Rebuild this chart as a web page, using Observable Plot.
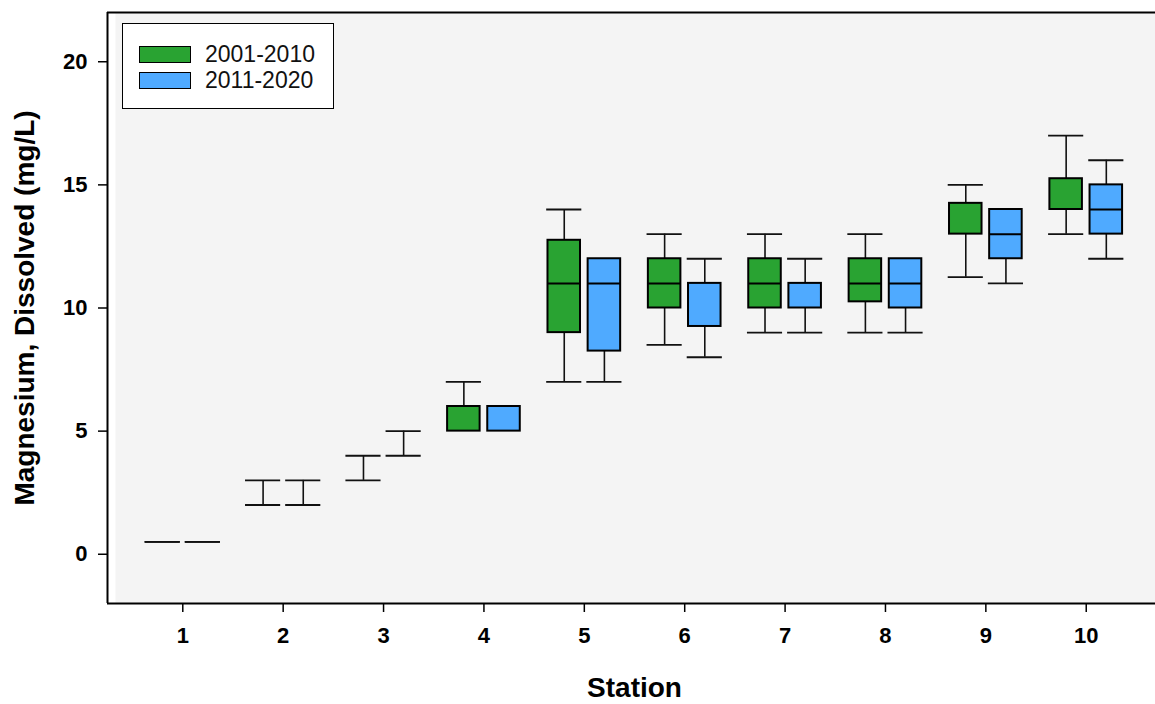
<!DOCTYPE html>
<html>
<head>
<meta charset="utf-8">
<script src="https://cdn.jsdelivr.net/npm/d3@7"></script>
<script src="https://cdn.jsdelivr.net/npm/@observablehq/plot@0.6"></script>
<style>
  html, body { margin: 0; padding: 0; background: white; }
  #wrap { position: relative; width: 1155px; height: 704px; overflow: hidden; }
  #legend { position: absolute; left: 122px; top: 23px; width: 210px; height: 84px;
    border: 1.5px solid #000; background: #fff; font-family: "Liberation Sans", Arial, sans-serif; font-size: 23px; }
  .row { position: absolute; left: 16px; height: 18px; display: flex; align-items: center; }
  .sw { width: 50px; height: 15px; border: 1.5px solid #000; margin-right: 14px; }
  .lab { line-height: 18px; color: #111; }
</style>
</head>
<body>
<div id="wrap"></div>
<script>
// ---- data ----
const stations = [1, 2, 3, 4, 5, 6, 7, 8, 9, 10];
const groups = ["2001-2010", "2011-2020"];
const colors = ["#29a332", "#4faaff"];
const yTicks = [0, 5, 10, 15, 20];

// 2001-2010
const lowA  = [0.5, 2, 3, 5, 7,     8.5,  9,  9,     11.25, 13];
const q1A   = [0.5, 2, 3, 5, 9,     10,   10, 10.25, 13,    14];
const medA  = [0.5, 2, 3, 5, 11,    11,   11, 11,    13,    14];
const q3A   = [0.5, 2, 3, 6, 12.75, 12,   12, 12,    14.25, 15.25];
const highA = [0.5, 3, 4, 7, 14,    13,   13, 13,    15,    17];
// 2011-2020
const lowB  = [0.5, 2, 4, 5, 7,     8,    9,  9,     11,    12];
const q1B   = [0.5, 2, 4, 5, 8.25,  9.25, 10, 10,    12,    13];
const medB  = [0.5, 2, 4, 5, 11,    11,   10, 11,    13,    14];
const q3B   = [0.5, 2, 4, 6, 12,    11,   11, 12,    14,    15];
const highB = [0.5, 3, 5, 6, 12,    12,   12, 12,    14,    16];

const xDomain = [0.25, 10.69];
const yDomain = [-2, 22];

const series = [
  {group: groups[0], lo: lowA, q1: q1A, med: medA, q3: q3A, hi: highA, off: -0.2},
  {group: groups[1], lo: lowB, q1: q1B, med: medB, q3: q3B, hi: highB, off: 0.2}
];
const rows = [];
for (const s of series) {
  stations.forEach((st, i) => {
    rows.push({station: st, group: s.group, cx: st + s.off,
      lo: s.lo[i], q1: s.q1[i], med: s.med[i], q3: s.q3[i], hi: s.hi[i]});
  });
}
const boxHalf = 0.162, capHalf = 0.175;
const degen = d => d.q3 <= d.q1;

const font = '"Liberation Sans", Arial, Helvetica, sans-serif';

const chart = Plot.plot({
  width: 1155,
  height: 704,
  marginLeft: 107,
  marginRight: 0,
  marginTop: 12,
  marginBottom: 101,
  style: {fontFamily: font, fontSize: "22px", fontWeight: "bold", background: "white", color: "#000"},
  x: {type: "linear", domain: xDomain, label: null},
  y: {domain: yDomain, label: null},
  color: {domain: groups, range: colors},
  marks: [
    Plot.frame({fill: "#f4f4f4", stroke: null, insetLeft: 8}),
    Plot.axisY({ticks: yTicks, tickSize: 9, tickPadding: 11, tickFormat: d => String(d), label: null, strokeWidth: 1.5, fontSize: 22, fontWeight: "bold"}),
    Plot.axisX({ticks: stations, tickSize: 9, tickPadding: 15, tickFormat: d => String(d), label: null, strokeWidth: 1.5, fontSize: 22, fontWeight: "bold"}),
    // whiskers
    Plot.ruleX(rows.filter(d => !degen(d) && d.lo < d.q1), {x: "cx", y1: "lo", y2: "q1", stroke: "#111", strokeWidth: 1.6}),
    Plot.ruleX(rows.filter(d => !degen(d) && d.hi > d.q3), {x: "cx", y1: "q3", y2: "hi", stroke: "#111", strokeWidth: 1.6}),
    Plot.ruleX(rows.filter(d => degen(d) && d.hi > d.lo), {x: "cx", y1: "lo", y2: "hi", stroke: "#111", strokeWidth: 1.6}),
    // caps
    Plot.ruleY(rows.filter(d => degen(d) || d.lo < d.q1), {y: "lo", x1: d => d.cx - capHalf, x2: d => d.cx + capHalf, stroke: "#111", strokeWidth: 1.8}),
    Plot.ruleY(rows.filter(d => degen(d) || d.hi > d.q3), {y: "hi", x1: d => d.cx - capHalf, x2: d => d.cx + capHalf, stroke: "#111", strokeWidth: 1.8}),
    // boxes
    Plot.rect(rows.filter(d => !degen(d)), {x1: d => d.cx - boxHalf, x2: d => d.cx + boxHalf, y1: "q1", y2: "q3", fill: "group", stroke: "#000", strokeWidth: 2}),
    // medians
    Plot.ruleY(rows.filter(d => !degen(d) && d.med > d.q1 && d.med < d.q3), {y: "med", x1: d => d.cx - boxHalf, x2: d => d.cx + boxHalf, stroke: "#000", strokeWidth: 2}),
    // frame lines
    Plot.ruleX([xDomain[0]], {stroke: "#000", strokeWidth: 2}),
    Plot.ruleY([yDomain[0], yDomain[1]], {stroke: "#000", strokeWidth: 2}),
    // titles
    Plot.text(["Station"], {frameAnchor: "bottom", dx: 3, dy: 85, text: d => d, textAnchor: "middle", lineAnchor: "middle", fontSize: 28, fontWeight: "bold", fill: "#000"}),
    Plot.text(["Magnesium, Dissolved (mg/L)"], {frameAnchor: "left", dx: -82, text: d => d, rotate: -90, textAnchor: "middle", lineAnchor: "middle", fontSize: 28, fontWeight: "bold", fill: "#000"})
  ]
});

const wrap = document.getElementById("wrap");
wrap.appendChild(chart);

// legend
const legend = document.createElement("div");
legend.id = "legend";
groups.forEach((g, i) => {
  const row = document.createElement("div");
  row.className = "row";
  row.style.top = (21 + i * 26) + "px";
  const sw = document.createElement("div");
  sw.className = "sw";
  sw.style.background = colors[i];
  const lab = document.createElement("span");
  lab.className = "lab";
  lab.textContent = g;
  row.appendChild(sw);
  row.appendChild(lab);
  legend.appendChild(row);
});
wrap.appendChild(legend);
</script>
</body>
</html>
